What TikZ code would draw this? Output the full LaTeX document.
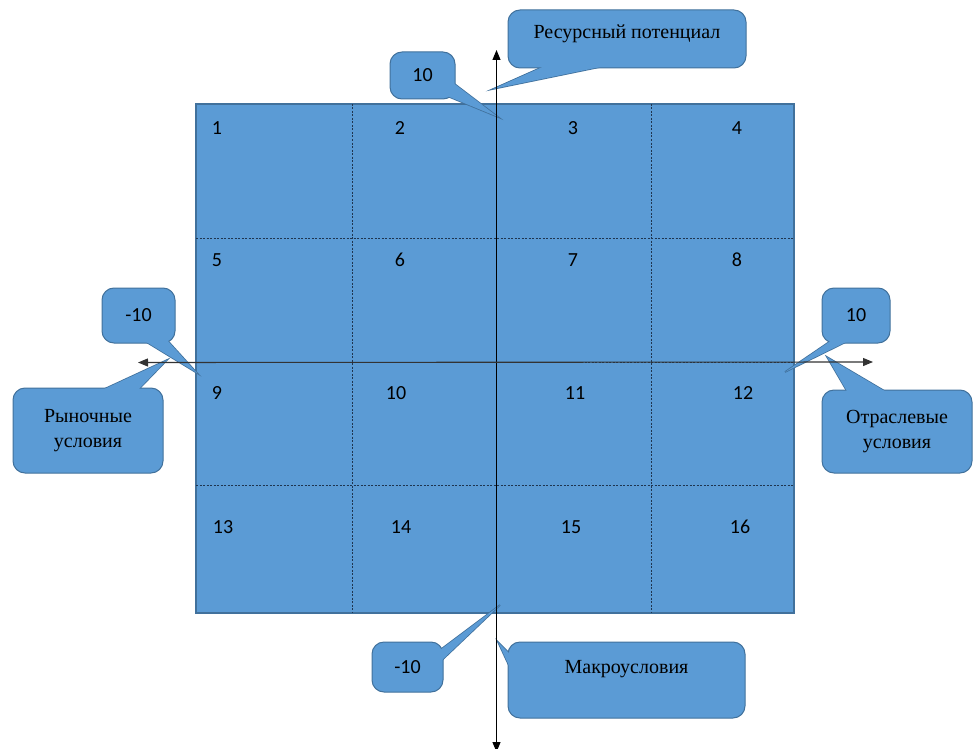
\documentclass[tikz,border=0pt]{standalone}
\usepackage{fontspec}
\setmainfont{Liberation Serif}
\newfontfamily\numfont{Carlito}
\usetikzlibrary{arrows.meta}

\definecolor{cellblue}{HTML}{5B9BD5}
\definecolor{cellline}{HTML}{41719C}
\definecolor{gridline}{HTML}{1F3550}

% wedge of each callout: base point / tip / base point
\def\wedgelist{547/65/493/89/610/65, 452/82/498/117/447/96,
  143/340/197/373/167/340, 100/391/167/360/137/391,
  832/340/785/372/850/340, 848/393/827/357/888/393,
  440/650/500/605/440/662, 511/655/498/642/511/670}

\begin{document}
\begin{tikzpicture}[x=1pt, y=-1pt,
   bubble/.style={draw=cellline, fill=cellblue, line width=1pt,
     rounded corners=12pt, inner sep=0pt, align=center,
     font=\fontsize{20}{25}\selectfont},
   numtxt/.style={font=\numfont\fontsize{20}{22}\selectfont},
   sep/.style={gridline, dash pattern=on 2pt off 1.5pt, line width=0.8pt},
   axis/.style={line width=1.1pt, {Triangle[length=10pt,width=8pt]}-{Triangle[length=10pt,width=8pt]}}]
  \useasboundingbox (0,0) rectangle (974,749);

  % field of 16 cells
  \node[draw=cellline, fill=cellblue, line width=1.5pt, inner sep=0pt,
        minimum width=598pt, minimum height=509pt] (field) at (495,358.5) {};
  \foreach \x in {352, 496, 651}
     \draw[sep] (\x,104) -- (\x,613);
  \foreach \y in {238, 362, 485}
     \draw[sep] (196,\y) -- (794,\y);
  \foreach \n/\x/\y in {1/217/128, 2/400/128, 3/573/128, 4/737/128,
      5/217/260, 6/400/260, 7/573/260, 8/737/260,
      9/217/393, 10/396/393, 11/575/393, 12/743/393,
      13/223/527, 14/401/527, 15/571/527, 16/740/527}
     \node[numtxt] (cell\n) at (\x,\y) {\n};

  % callouts
  \foreach \ax/\ay/\tx/\ty/\bx/\by in \wedgelist
     \draw[cellline, fill=cellblue, line width=1.6pt] (\ax,\ay) -- (\tx,\ty) -- (\bx,\by) -- cycle;
  \node[bubble, minimum width=238pt, minimum height=58pt,
        text height=13pt, text depth=13pt] (res) at (627,39) {Ресурсный потенциал};
  \node[bubble, font=\numfont\fontsize{20}{22}\selectfont,
        minimum width=65pt, minimum height=47pt] (resmax) at (422.5,75.5) {10};
  \node[bubble, font=\numfont\fontsize{20}{22}\selectfont,
        minimum width=73pt, minimum height=55pt] (mktmin) at (138.5,315.5) {-10};
  \node[bubble, minimum width=150pt, minimum height=85pt] (mkt) at (88,430.5) {Рыночные\\условия};
  \node[bubble, font=\numfont\fontsize{20}{22}\selectfont,
        minimum width=68pt, minimum height=55pt] (indmax) at (856,315.5) {10};
  \node[bubble, minimum width=150pt, minimum height=83pt] (ind) at (897,431.5) {Отраслевые\\условия};
  \node[bubble, font=\numfont\fontsize{20}{22}\selectfont,
        minimum width=71pt, minimum height=50pt] (macmin) at (407.5,667) {-10};
  \node[bubble, minimum width=237pt, minimum height=76pt,
        text height=13pt, text depth=27pt] (mac) at (626.5,680) {Макроусловия};
  \foreach \ax/\ay/\tx/\ty/\bx/\by in \wedgelist
     \fill[cellblue] (\ax,\ay) -- (\tx,\ty) -- (\bx,\by) -- cycle;

  % axes
  \coordinate (top) at (496.5,50);  \coordinate (bottom) at (496.5,752);
  \coordinate (left) at (138,362.5); \coordinate (right) at (873,362);
  \draw[axis] (bottom) -- (top);
  \draw[axis, black!80] (left) -- (right);
\end{tikzpicture}
\end{document}
